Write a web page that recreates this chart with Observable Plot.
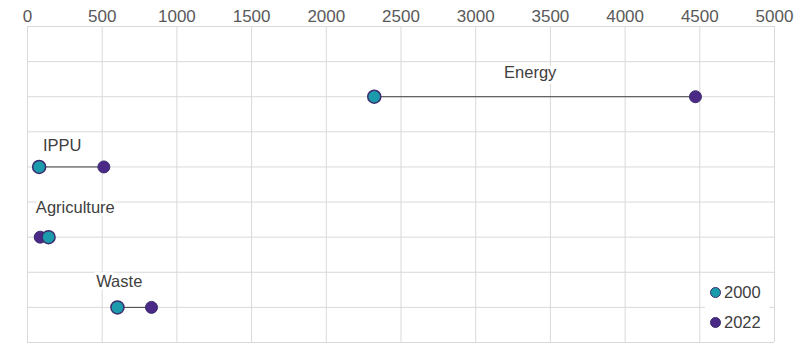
<!DOCTYPE html>
<html>
<head>
<meta charset="utf-8">
<script src="https://cdn.jsdelivr.net/npm/d3@7"></script>
<script src="https://cdn.jsdelivr.net/npm/@observablehq/plot@0.6"></script>
<style>
  body { margin: 0; background: #fff; font-family: "Liberation Sans", Arial, sans-serif; }
  #wrap { position: relative; width: 805px; height: 356px; }
  #legend { position: absolute; left: 705px; top: 277px; width: 64px; background: #fff; font-size: 16.5px; color: #404040; }
  #legend div { display: flex; align-items: center; height: 30px; }
  #legend span.sw { display: inline-block; width: 11px; height: 11px; border-radius: 50%; margin: 0 3px 0 5px; box-sizing: border-box; border: 1px solid #3b2d6e; }
</style>
</head>
<body>
<div id="wrap"><div id="legend"></div></div>
<script>
const sectors = ["Energy", "IPPU", "Agriculture", "Waste"];
const v2000 = [2321, 78, 141, 602];
const v2022 = [4471, 511, 85, 830];
const rowIndex = [2, 4, 6, 8];
const labelX = [3365, 232, 320, 614];
const labelRow = [1.31, 3.39, 5.16, 7.26];
const xTicks = [0, 500, 1000, 1500, 2000, 2500, 3000, 3500, 4000, 4500, 5000];
const yGrid = [0, 1, 2, 3, 4, 5, 6, 7, 8, 9];
const years = ["2000", "2022"];
const colors = ["#1c9bad", "#4a2a86"];

const rows = sectors.map((s, i) => ({sector: s, a: v2000[i], b: v2022[i], y: rowIndex[i], lx: labelX[i], ly: labelRow[i]}));

const chart = Plot.plot({
  width: 805,
  height: 356,
  marginLeft: 27,
  marginRight: 31,
  marginTop: 26,
  marginBottom: 14,
  style: {fontFamily: "Liberation Sans, Arial, sans-serif", fontSize: "16.5px", background: "#fff"},
  x: {domain: [0, 5000], axis: null},
  y: {domain: [0, 9], reverse: true, axis: null},
  marks: [
    Plot.ruleX(xTicks, {stroke: "#d9d9d9", strokeWidth: 1, strokeOpacity: 1}),
    Plot.ruleY(yGrid, {stroke: "#d9d9d9", strokeWidth: 1, strokeOpacity: 1}),
    Plot.axisX(xTicks, {anchor: "top", tickSize: 0, tickPadding: 5, fill: "#595959", fontSize: 17, tickFormat: d => String(d)}),
    Plot.text(rows, {x: "lx", y: "ly", text: "sector", fill: "#404040", fontSize: 16.5, stroke: "white", strokeWidth: 6, paintOrder: "stroke"}),
    Plot.link(rows, {x1: "a", x2: "b", y1: "y", y2: "y", stroke: "#404040", strokeWidth: 1}),
    Plot.dot(rows, {x: "b", y: "y", r: 6, fill: colors[1], stroke: "#3b2d6e", strokeWidth: 1}),
    Plot.dot(rows, {x: "a", y: "y", r: 6.5, fill: colors[0], stroke: "#3b2d6e", strokeWidth: 1.5})
  ]
});
document.getElementById("wrap").prepend(chart);
chart.style.position = "absolute";
chart.style.left = "0";
chart.style.top = "0";
const legend = document.getElementById("legend");
years.forEach((y, i) => {
  const d = document.createElement("div");
  d.innerHTML = `<span class="sw" style="background:${colors[i]}"></span>${y}`;
  legend.appendChild(d);
});
</script>
</body>
</html>
